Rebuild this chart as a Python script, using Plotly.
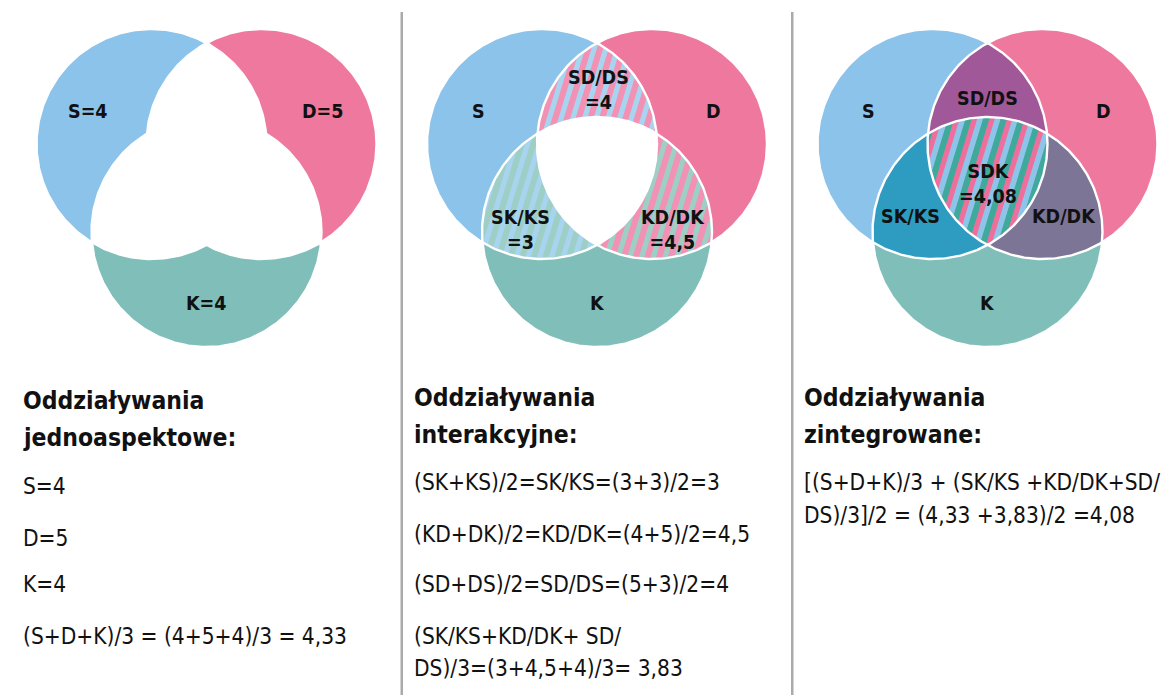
import math
import plotly.graph_objects as go

# ---------------- data ----------------
circle_names = ["S", "D", "K"]
circle_values = [4, 5, 4]
pair_names = ["SD/DS", "SK/KS", "KD/DK"]
pair_values = [4, 3, 4.5]
integrated_name = "SDK"
integrated_value = 4.08

panel_titles = [
    ["Oddziaływania", "jednoaspektowe:"],
    ["Oddziaływania", "interakcyjne:"],
    ["Oddziaływania", "zintegrowane:"],
]
panel_lines = [
    ["S=4", "D=5", "K=4", "(S+D+K)/3 = (4+5+4)/3 = 4,33"],
    ["(SK+KS)/2=SK/KS=(3+3)/2=3", "(KD+DK)/2=KD/DK=(4+5)/2=4,5",
     "(SD+DS)/2=SD/DS=(5+3)/2=4", "(SK/KS+KD/DK+ SD/", "DS)/3=(3+4,5+4)/3= 3,83"],
    ["[(S+D+K)/3 + (SK/KS +KD/DK+SD/", "DS)/3]/2 = (4,33 +3,83)/2 =4,08"],
]

# ---------------- layout / style ----------------
W, H = 1176, 695
PANEL_CX = [206.5, 597.0, 987.5]
R = 115.0
HALF = 55.0
TOP_CY = 144.0
K_CY = 232.0

FONT = "DejaVu Sans Condensed, Liberation Sans Narrow, sans-serif"
BASE = {"S": "#8cc3eb", "D": "#ee789e", "K": "#7fbeb9"}
LIGHT = {"S": "#a8d4f0", "D": "#f291b3", "K": "#9ecfc6"}
PAIR3 = {"SD": "#a05899", "SK": "#2e9bc0", "KD": "#7d7596"}
TRIPLE = ["#ee6f9b", "#8dc4ea", "#3fa99c"]
STRIPE_W = 5.6
STRIPE_ANG = math.radians(73)

def fmt(v):
    return ("%g" % v).replace(".", ",")

def circle_poly(cx, cy, r, n=360):
    return [(cx + r * math.cos(2 * math.pi * i / n), cy + r * math.sin(2 * math.pi * i / n)) for i in range(n)]

def area(p):
    a = 0
    for i in range(len(p)):
        x1, y1 = p[i]; x2, y2 = p[(i + 1) % len(p)]
        a += x1 * y2 - x2 * y1
    return a / 2

def clip(subject, clipper):
    if area(clipper) < 0:
        clipper = clipper[::-1]
    def inside(p, a, b):
        return (b[0] - a[0]) * (p[1] - a[1]) - (b[1] - a[1]) * (p[0] - a[0]) >= 0
    def inter(s, e, a, b):
        x1, y1 = s; x2, y2 = e; x3, y3 = a; x4, y4 = b
        den = (x1 - x2) * (y3 - y4) - (y1 - y2) * (x3 - x4)
        if den == 0:
            return e
        t = ((x1 - x3) * (y3 - y4) - (y1 - y3) * (x3 - x4)) / den
        return (x1 + t * (x2 - x1), y1 + t * (y2 - y1))
    out = subject
    for i in range(len(clipper)):
        a = clipper[i]; b = clipper[(i + 1) % len(clipper)]
        inp = out; out = []
        if not inp:
            break
        s = inp[-1]
        for e in inp:
            if inside(e, a, b):
                if not inside(s, a, b):
                    out.append(inter(s, e, a, b))
                out.append(e)
            elif inside(s, a, b):
                out.append(inter(s, e, a, b))
            s = e
    return out

def stripes(region, colors, phase=0.0):
    """return dict color -> list of stripe polygons clipped to region"""
    u = (math.cos(STRIPE_ANG), -math.sin(STRIPE_ANG))
    n = (math.sin(STRIPE_ANG), math.cos(STRIPE_ANG))
    xs = [p[0] for p in region]; ys = [p[1] for p in region]
    cx = (min(xs) + max(xs)) / 2; cy = (min(ys) + max(ys)) / 2
    L = 400
    res = {c: [] for c in colors}
    for k in range(-60, 60):
        c = colors[k % len(colors)]
        t0 = k * STRIPE_W + phase; t1 = t0 + STRIPE_W + 0.4
        pts = []
        for t, s in [(t0, -L), (t1, -L), (t1, L), (t0, L)]:
            pts.append((cx + n[0] * t + u[0] * s, cy + n[1] * t + u[1] * s))
        piece = clip(pts, region)
        if len(piece) >= 3:
            res[c].append(piece)
    return res

fig = go.Figure()

def add_polys(polys, color):
    xs, ys = [], []
    for p in polys:
        xs += [q[0] for q in p] + [p[0][0], None]
        ys += [q[1] for q in p] + [p[0][1], None]
    fig.add_trace(go.Scatter(x=xs, y=ys, mode="lines", fill="toself", fillcolor=color,
                             line=dict(width=0, color=color), hoverinfo="skip", showlegend=False))

def add_outline(poly, color="white", width=2.4):
    xs = [q[0] for q in poly] + [poly[0][0]]
    ys = [q[1] for q in poly] + [poly[0][1]]
    fig.add_trace(go.Scatter(x=xs, y=ys, mode="lines", line=dict(width=width, color=color),
                             hoverinfo="skip", showlegend=False))

annotations = []
def text(x, y, s, size, bold=False, anchor="center"):
    annotations.append(dict(x=x, y=y, xref="x", yref="y", text=("<b>%s</b>" % s) if bold else s,
                            showarrow=False, xanchor=anchor, yanchor="middle", borderpad=0,
                            font=dict(family=FONT, size=size, color="#111111"),
                            align=anchor if anchor != "center" else "center"))

LABEL_SIZE = 19.5
for pi, cx in enumerate(PANEL_CX):
    centers = {"S": (cx - HALF, TOP_CY), "D": (cx + HALF, TOP_CY), "K": (cx, K_CY)}
    circ = {k: circle_poly(*centers[k], R) for k in circle_names}
    lens = {
        "SD": clip(circ["S"], circ["D"]),
        "SK": clip(circ["S"], circ["K"]),
        "KD": clip(circ["K"], circ["D"]),
    }
    triple = clip(lens["SD"], circ["K"])
    for k in circle_names:
        add_polys([circ[k]], BASE[k])
    if pi == 0:
        for key in ["SD", "SK", "KD"]:
            add_polys([lens[key]], "white")
    elif pi == 1:
        for key in ["SD", "SK", "KD"]:
            c1, c2 = LIGHT[key[0]], LIGHT[key[1]]
            add_polys([lens[key]], c1)
            st = stripes(lens[key], [c1, c2])
            add_polys(st[c2], c2)
        add_polys([triple], "white")
    else:
        for key in ["SD", "SK", "KD"]:
            add_polys([lens[key]], PAIR3[key])
        add_polys([triple], TRIPLE[0])
        st = stripes(triple, TRIPLE)
        add_polys(st[TRIPLE[1]], TRIPLE[1])
        add_polys(st[TRIPLE[2]], TRIPLE[2])
    for k in circle_names:
        add_outline(circ[k])

    # circle labels
    pos = {"S": (cx - 119, 111), "D": (cx + 116, 111), "K": (cx, 303)}
    for name, val in zip(circle_names, circle_values):
        lbl = "%s=%s" % (name, fmt(val)) if pi == 0 else name
        text(pos[name][0], pos[name][1], lbl, LABEL_SIZE, bold=True)
    if pi == 1:
        ppos = {"SD/DS": (cx + 1, 90), "SK/KS": (cx - 77, 230), "KD/DK": (cx + 76, 230)}
        for name, val in zip(pair_names, pair_values):
            text(ppos[name][0], ppos[name][1], "%s<br>=%s" % (name, fmt(val)), LABEL_SIZE, bold=True)
    if pi == 2:
        ppos = {"SD/DS": (cx, 98), "SK/KS": (cx - 77, 216), "KD/DK": (cx + 76, 216)}
        for name in pair_names:
            text(ppos[name][0], ppos[name][1], name, LABEL_SIZE, bold=True)
        text(cx, 184, "%s<br>=%s" % (integrated_name, fmt(integrated_value)), LABEL_SIZE, bold=True)

    # headings and formulas
    x0 = cx - 184.5
    ty = [400, 397, 397][pi]
    text(x0, ty, panel_titles[pi][0], 24.5, bold=True, anchor="left")
    text(x0, ty + 37, panel_titles[pi][1], 24.5, bold=True, anchor="left")
    line_y = [[486, 538, 584, 636], [482, 534, 584, 636, 668], [482, 515]][pi]
    for s, y in zip(panel_lines[pi], line_y):
        text(x0, y, s, 22.5, anchor="left")

shapes = []
for i in range(len(PANEL_CX) - 1):
    xm = (PANEL_CX[i] + PANEL_CX[i + 1]) / 2
    shapes.append(dict(type="line", xref="x", yref="y", x0=xm, x1=xm, y0=12, y1=H,
                       line=dict(color="#aaaaaa", width=2.5)))

fig.update_layout(
    width=W, height=H, margin=dict(l=0, r=0, t=0, b=0),
    paper_bgcolor="white", plot_bgcolor="white",
    xaxis=dict(range=[0, W], visible=False, fixedrange=True),
    yaxis=dict(range=[H, 0], visible=False, fixedrange=True),
    annotations=annotations, shapes=shapes, showlegend=False,
)
fig.write_html("out.html", config={"displayModeBar": False},
               post_script="document.body.style.margin='0';document.body.style.overflow='hidden';")
